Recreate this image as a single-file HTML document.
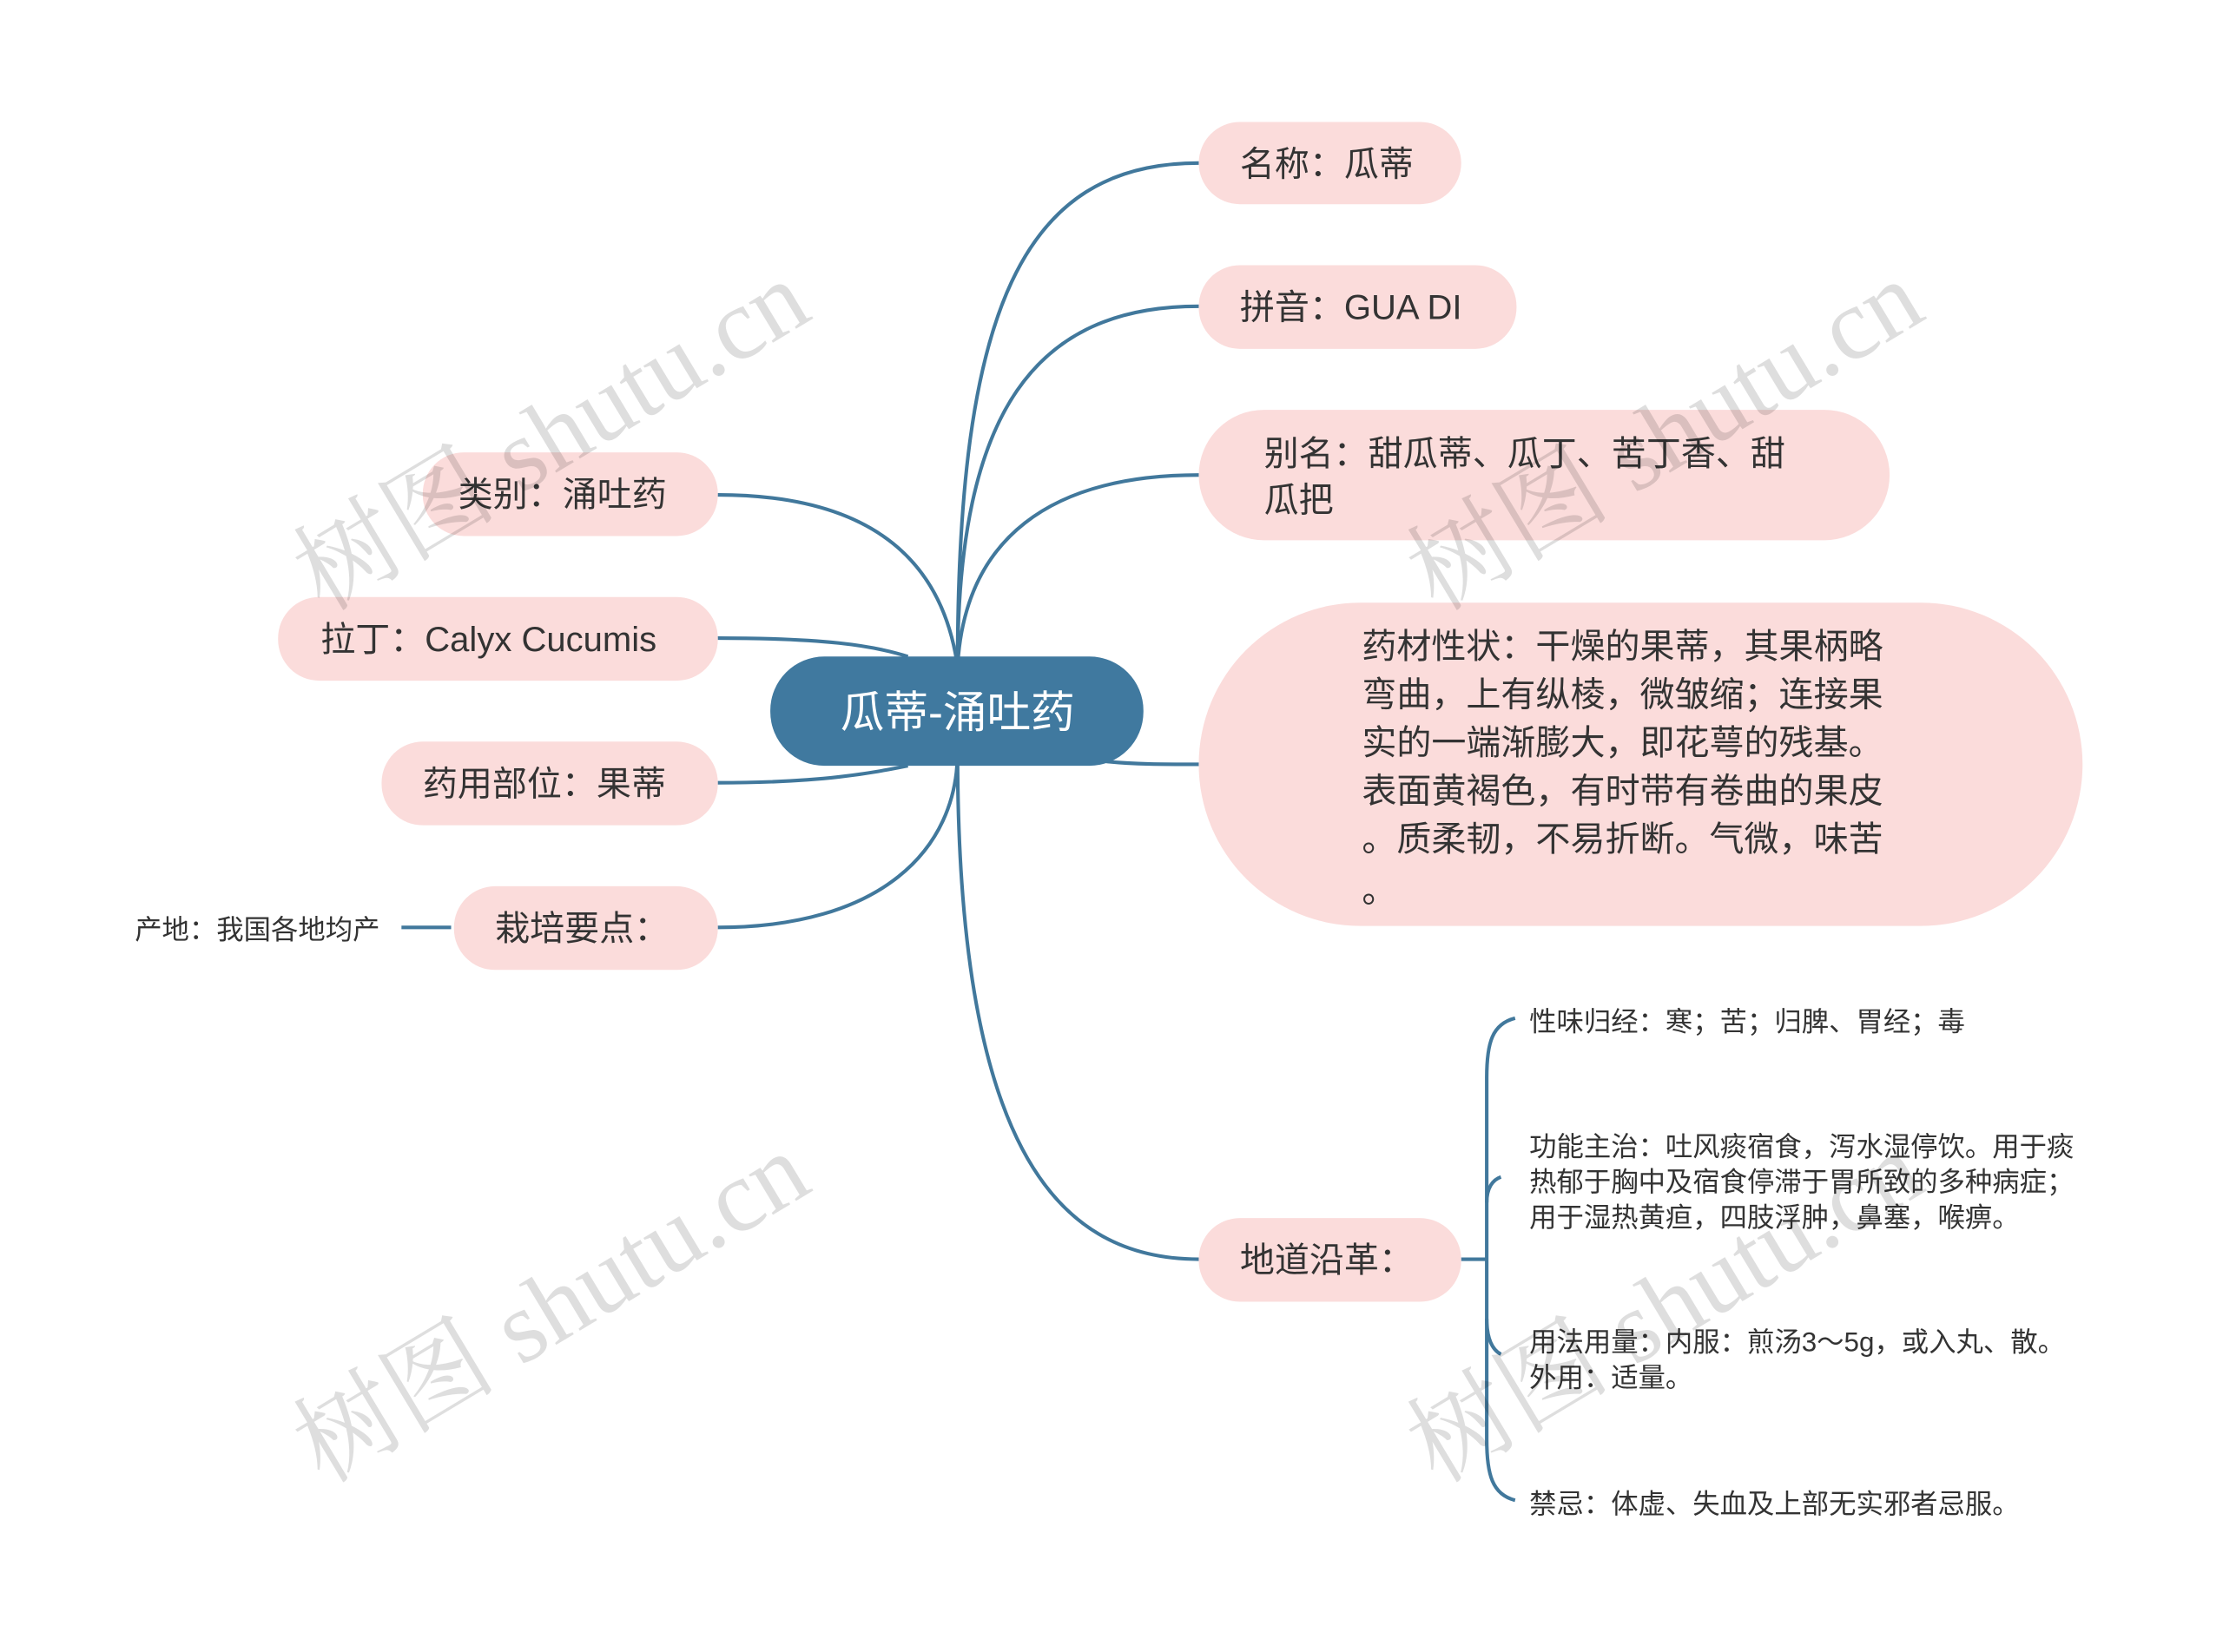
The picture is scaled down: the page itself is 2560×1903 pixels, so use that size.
<!DOCTYPE html>
<html><head><meta charset="utf-8"><style>
html,body{margin:0;padding:0;background:#fff;}
svg{display:block;}
text{font-family:"Liberation Sans","Noto Sans CJK SC",sans-serif;}
</style></head><body>
<svg width="2560" height="1903" viewBox="0 0 1567 1165" preserveAspectRatio="none" xmlns="http://www.w3.org/2000/svg">
<rect width="1567" height="1165" fill="#fff"/>
<g fill="none" stroke="#41789c" stroke-width="2.5">
<path d="M675 470 C675 220,720 115,845 115"/>
<path d="M675 470 C675 290,730 216,845 216"/>
<path d="M675 470 C680 380,740 335,845 335"/>
<path d="M780 537 C800 539,820 539,845 539"/>
<path d="M675 530 C675 800,740 888,845 888"/>
<path d="M506 349 C620 349,665 400,675 470"/>
<path d="M506 450 C580 450,615 455,640 463"/>
<path d="M506 552 C580 552,615 545,640 540"/>
<path d="M506 654 C620 654,675 600,675 530"/>
<path d="M283 654 L318 654"/>
<path d="M1030 888 L1048 888"/>
<path d="M1068 718 C1052 722,1048 735,1048 760 L1048 1015 C1048 1040,1052 1054,1068 1058"/>
<path d="M1048 848 C1048 838,1052 832,1058 830"/>
<path d="M1048 930 C1048 944,1052 952,1058 955"/>
</g>
<g fill="#fbdcdb">
<rect x="845" y="86" width="185" height="58" rx="29"/>
<rect x="845" y="187" width="224" height="59" rx="29"/>
<rect x="845" y="289" width="487" height="92" rx="46"/>
<rect x="845" y="425" width="623" height="228" rx="114"/>
<rect x="845" y="859" width="185" height="59" rx="29"/>
<rect x="298" y="319" width="208" height="59" rx="29"/>
<rect x="196" y="421" width="310" height="59" rx="29"/>
<rect x="269" y="523" width="237" height="59" rx="29"/>
<rect x="320" y="625" width="186" height="59" rx="29"/>
</g>
<rect x="543" y="463" width="263" height="77" rx="38" fill="#40799f"/>
<text x="675" y="513" font-size="31" fill="#fff" text-anchor="middle">瓜蒂-涌吐药</text>
<g font-size="24.5" fill="#333">
<text x="874" y="124">名称：瓜蒂</text>
<text x="874" y="225">拼音：GUA DI</text>
<text x="891" y="328">别名：甜瓜蒂、瓜丁、苦丁香、甜</text>
<text x="891" y="361">瓜把</text>
<text x="960" y="464">药材性状：干燥的果蒂，其果柄略</text>
<text x="960" y="498">弯曲，上有纵棱，微皱缩；连接果</text>
<text x="960" y="532">实的一端渐膨大，即花萼的残基。</text>
<text x="960" y="566">表面黄褐色，有时带有卷曲的果皮</text>
<text x="960" y="600">。质柔韧，不易折断。气微，味苦</text>
<text x="960" y="636">。</text>
<text x="874" y="897">地道沿革：</text>
<text x="323" y="357">类别：涌吐药</text>
<text x="226" y="459">拉丁：Calyx Cucumis</text>
<text x="298" y="561">药用部位：果蒂</text>
<text x="349" y="663">栽培要点：</text>
</g>
<g font-size="19.2" fill="#333">
<text x="95" y="662">产地：我国各地均产</text>
<text x="1078" y="727">性味归经：寒；苦；归脾、胃经；毒</text>
<text x="1078" y="815">功能主治：吐风痰宿食，泻水湿停饮。用于痰</text>
<text x="1078" y="840">热郁于胸中及宿食停滞于胃所致的多种病症；</text>
<text x="1078" y="865">用于湿热黄疸，四肢浮肿，鼻塞，喉痹。</text>
<text x="1078" y="953">用法用量：内服：煎汤3～5g，或入丸、散。</text>
<text x="1078" y="978">外用：适量。</text>
<text x="1078" y="1067">禁忌：体虚、失血及上部无实邪者忌服。</text>
</g>
<g font-size="72" fill="#000" fill-opacity="0.13">
<text transform="translate(228,432) rotate(-31)" style="font-family:'Liberation Serif','Noto Serif CJK SC',serif">树图 shutu.cn</text>
<text transform="translate(228,1047) rotate(-31)" style="font-family:'Liberation Serif','Noto Serif CJK SC',serif">树图 shutu.cn</text>
<text transform="translate(1013,432) rotate(-31)" style="font-family:'Liberation Serif','Noto Serif CJK SC',serif">树图 shutu.cn</text>
<text transform="translate(1013,1047) rotate(-31)" style="font-family:'Liberation Serif','Noto Serif CJK SC',serif">树图 shutu.cn</text>
</g>
</svg>
</body></html>
